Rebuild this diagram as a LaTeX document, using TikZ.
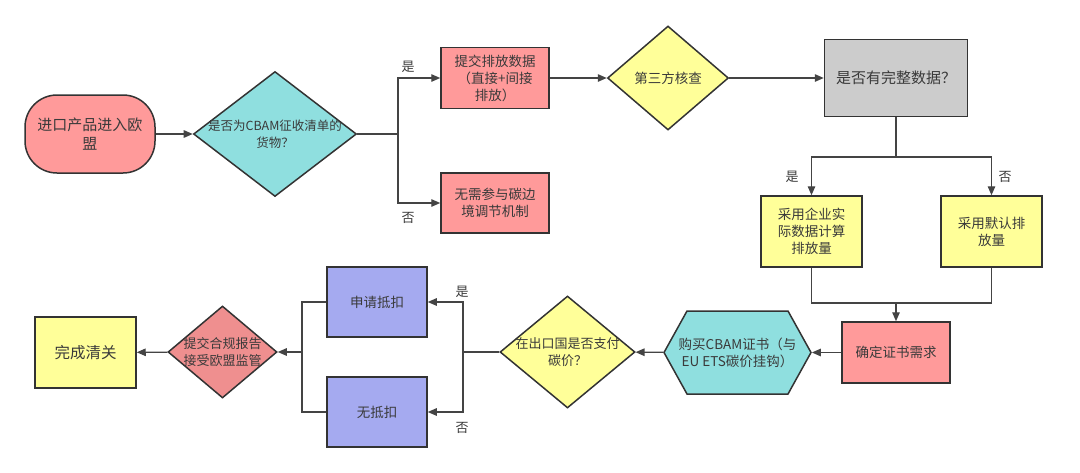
\documentclass[tikz,border=0pt]{standalone}
\usepackage{fontspec}
\setmainfont{Noto Sans CJK SC}
\usetikzlibrary{shapes.geometric,shapes.symbols,arrows.meta}

\definecolor{pinkfill}{HTML}{FF9A9A}
\definecolor{redfill}{HTML}{EF8F8F}
\definecolor{cyanfill}{HTML}{8FDFDF}
\definecolor{yellowfill}{HTML}{FFFF99}
\definecolor{grayfill}{HTML}{CCCCCC}
\definecolor{bluefill}{HTML}{A5AAF0}
\definecolor{edgecol}{HTML}{333333}
\definecolor{linecol}{HTML}{444444}
\definecolor{textcol}{HTML}{3A3A3A}

\tikzset{
  txt/.style={align=center, text=textcol, font=\fontsize{13.5}{17}\selectfont},
  box/.style={draw=edgecol, line width=1.5pt, txt, inner sep=2pt},
  terminal/.style={box, rounded corners=32pt},
  decision/.style={box, diamond},
  hexbox/.style={box, signal, signal to=west and east, signal pointer angle=122},
  flow/.style={draw=linecol, line width=1.3pt, -{Triangle[length=9pt,width=7.5pt]}},
  joint/.style={draw=linecol, line width=1.3pt},
  yesno/.style={text=textcol, font=\fontsize{13}{15}\selectfont}
}

\begin{document}
\begin{tikzpicture}[x=1pt, y=-1pt]
    \useasboundingbox (0,0) rectangle (1080,472);

    % Top row
    \node[terminal, fill=pinkfill, minimum width=130, minimum height=78, font=\fontsize{15}{19}\selectfont] (start) at (90,134) {进口产品进入欧\\盟};
    \node[decision, fill=cyanfill, minimum width=163, minimum height=125,
          label={[txt, font=\fontsize{12.5}{17}\selectfont]center:是否为CBAM征收清单的\\货物？}] (list) at (275,134) {};
    \node[box, fill=pinkfill, minimum width=108, minimum height=61] (submit) at (495,78) {提交排放数据\\（直接+间接\\排放）};
    \node[box, fill=pinkfill, minimum width=108, minimum height=60] (exempt) at (495,203) {无需参与碳边\\境调节机制};
    \node[decision, fill=yellowfill, minimum width=121, minimum height=104,
          label={[txt]center:第三方核查}] (verify) at (668,78) {};
    \node[box, fill=grayfill, minimum width=143, minimum height=77, font=\fontsize{15}{17}\selectfont] (complete) at (896,78) {是否有完整数据？};
    \node[box, fill=yellowfill, minimum width=101, minimum height=71] (actual) at (811.5,231.5) {采用企业实\\际数据计算\\排放量};
    \node[box, fill=yellowfill, minimum width=101, minimum height=71] (default) at (991.5,231.5) {采用默认排\\放量};

    % Bottom row
    \node[box, fill=pinkfill, minimum width=108, minimum height=61] (demand) at (896,352.5) {确定证书需求};
    \node[hexbox, fill=cyanfill, minimum width=147, minimum height=83,
          label={[txt]center:购买CBAM证书（与\\EU ETS碳价挂钩）}] (buy) at (737.5,352.5) {};
    \node[decision, fill=yellowfill, minimum width=135, minimum height=112,
          label={[txt, font=\fontsize{13}{17}\selectfont]center:在出口国是否支付\\碳价？}] (paid) at (567.5,352) {};
    \node[box, fill=bluefill, minimum width=100, minimum height=70] (deduct) at (377,302) {申请抵扣};
    \node[box, fill=bluefill, minimum width=100, minimum height=70] (nodeduct) at (377,412) {无抵扣};
    \node[decision, fill=redfill, minimum width=109, minimum height=92,
          label={[txt, font=\fontsize{13}{17}\selectfont]center:提交合规报告\\接受欧盟监管}] (report) at (222.5,352) {};
    \node[box, fill=yellowfill, minimum width=101, minimum height=71, font=\fontsize{15.5}{19}\selectfont] (done) at (85.5,352.5) {完成清关};

    % Branch points
    \coordinate (split1) at (398,134);
    \coordinate (split2) at (896,157);
    \coordinate (merge1) at (896,303);
    \coordinate (split3) at (463,352);
    \coordinate (merge2) at (302,352);

    % Connectors
    \draw[flow] (start) -- (list);
    \draw[joint] (list.east) -- (split1);
    \draw[flow] (split1) |- (submit.west);
    \draw[flow] (split1) |- (exempt.west);
    \draw[flow] (submit) -- (verify);
    \draw[flow] (verify) -- (complete);
    \draw[joint] (complete.south) -- (split2);
    \draw[flow] (split2) -| (actual.north);
    \draw[flow] (split2) -| (default.north);
    \draw[joint] (actual.south) |- (merge1);
    \draw[joint] (default.south) |- (merge1);
    \draw[flow] (merge1) -- (demand.north);
    \draw[flow] (demand) -- (buy);
    \draw[flow] (buy) -- (paid);
    \draw[joint] (paid.west) -- (split3);
    \draw[flow] (split3) |- (deduct.east);
    \draw[flow] (split3) |- (nodeduct.east);
    \draw[joint] (deduct.west) -| (merge2);
    \draw[joint] (nodeduct.west) -| (merge2);
    \draw[flow] (merge2) -- (report);
    \draw[flow] (report) -- (done);

    % Yes / no marks
    \node[yesno] (yes1) at (408,67) {是};
    \node[yesno] (no1) at (408,218) {否};
    \node[yesno] (yes2) at (792,177) {是};
    \node[yesno] (no2) at (1005,177) {否};
    \node[yesno] (yes3) at (462,292) {是};
    \node[yesno] (no3) at (462,428) {否};
\end{tikzpicture}
\end{document}
